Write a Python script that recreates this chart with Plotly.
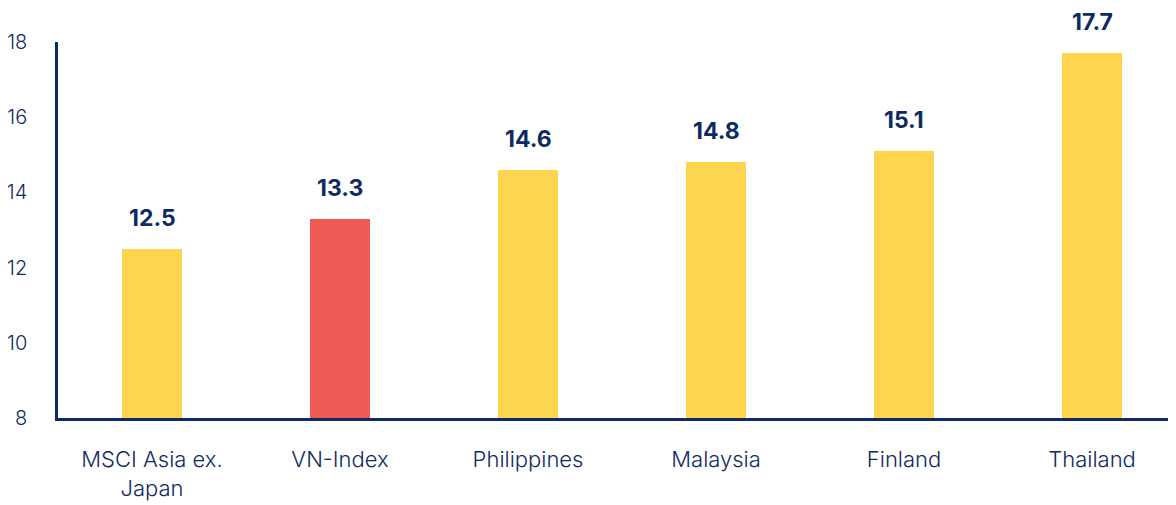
"""P/E comparison bar chart."""

import plotly.graph_objects as go

categories = ["MSCI Asia ex.<br>Japan", "VN-Index", "Philippines", "Malaysia", "Finland", "Thailand"]
values = [12.5, 13.3, 14.6, 14.8, 15.1, 17.7]
highlight = "VN-Index"
y_ticks = [8, 10, 12, 14, 16, 18]

NAVY = "#0f2a63"
YELLOW = "#ffd54f"
RED = "#f05a55"
FONT = "Inter, Lato, sans-serif"

colors = [RED if c == highlight else YELLOW for c in categories]

fig = go.Figure()
fig.add_trace(
    go.Bar(
        x=categories,
        y=values,
        marker_color=colors,
        marker_line_width=0,
        width=0.32,
        showlegend=False,
    )
)

for cat, val in zip(categories, values):
    fig.add_annotation(
        x=cat,
        y=val,
        text=f"<b>{val:.1f}</b>",
        showarrow=False,
        yanchor="bottom",
        yshift=15,
        font=dict(family=FONT, size=23, color=NAVY),
    )

fig.update_layout(
    width=1176,
    height=505,
    margin=dict(l=50, r=0, t=34, b=95),
    plot_bgcolor="white",
    paper_bgcolor="white",
    bargap=0,
    font=dict(family=FONT, size=22, color=NAVY),
)
fig.update_xaxes(
    range=[-0.5, 5.489],
    showline=True,
    linecolor=NAVY,
    linewidth=3,
    showgrid=False,
    ticks="",
    ticklabelstandoff=20,
    tickfont=dict(size=22, color=NAVY, weight=300),
)
fig.update_yaxes(
    range=[8, 18],
    tickvals=y_ticks,
    showline=True,
    linecolor=NAVY,
    linewidth=2.5,
    showgrid=False,
    zeroline=False,
    ticks="",
    ticklabelstandoff=24,
    tickfont=dict(size=20, color=NAVY, weight=300),
)

fig.write_html("out.html")
